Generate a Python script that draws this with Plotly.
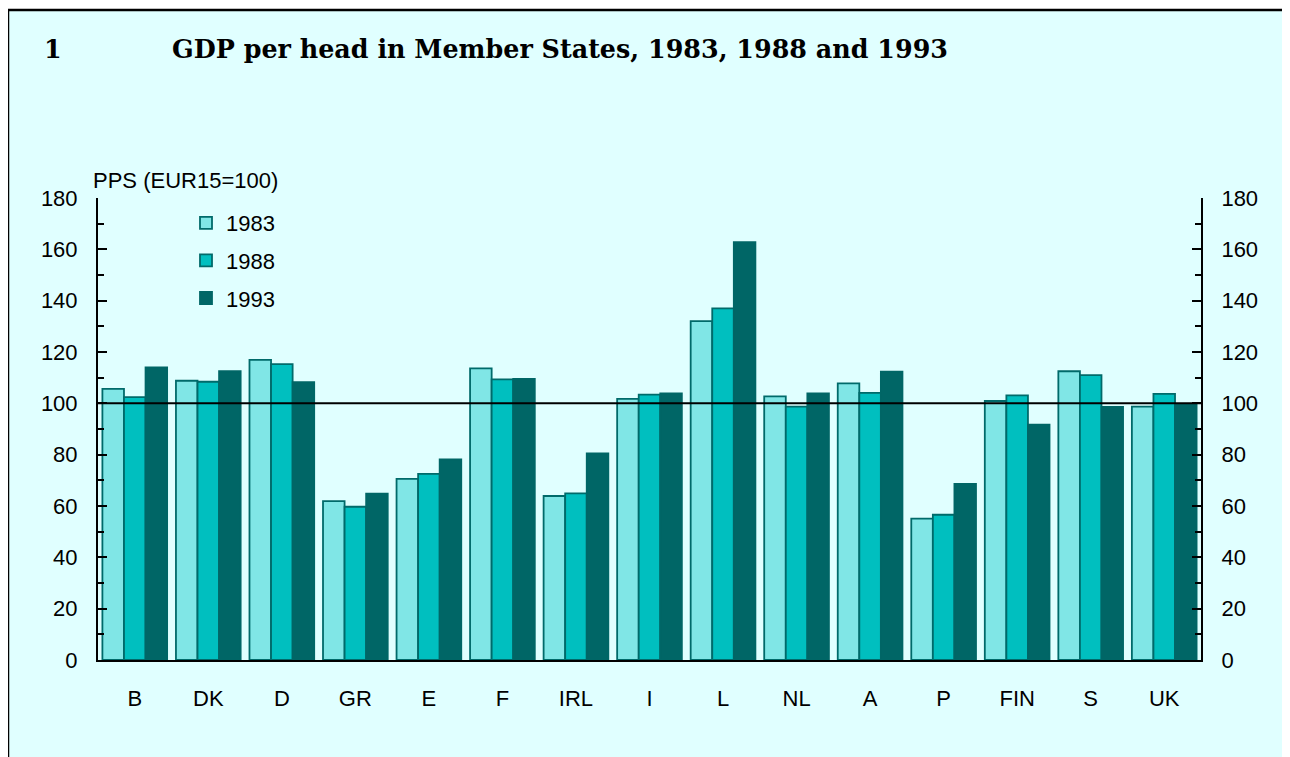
import plotly.graph_objects as go

countries = ["B", "DK", "D", "GR", "E", "F", "IRL", "I", "L", "NL", "A", "P", "FIN", "S", "UK"]
v1983 = [105.6, 108.8, 116.9, 61.9, 70.6, 113.6, 63.9, 101.7, 132.0, 102.7, 107.8, 55.1, 100.9, 112.5, 98.7]
v1988 = [102.4, 108.4, 115.3, 59.7, 72.5, 109.3, 64.9, 103.4, 137.0, 98.7, 104.1, 56.6, 103.1, 111.0, 103.7]
v1993 = [114.0, 112.5, 108.3, 64.8, 78.2, 109.5, 80.5, 103.9, 162.8, 103.9, 112.3, 68.6, 91.7, 98.6, 99.7]
years = ["1983", "1988", "1993"]
fills = ["#80E6E6", "#00BFBF", "#006666"]
edges = ["#006A6A", "#006A6A", "#006666"]
ytick_vals = [0, 20, 40, 60, 80, 100, 120, 140, 160, 180]

OFF = 8  # page body margin
W, H = 1290 - OFF, 757 - OFF
ML = 98 - OFF
MT = 198 - OFF
MR = W - (1201 - OFF)
MB = H - (660 - OFF)
PW, PH = W - ML - MR, H - MT - MB

def px_x(p):
    return (p - OFF - ML) / PW

def px_y(p):
    return (H - MB - (p - OFF)) / PH

BG = "#E0FFFF"
FONT = "Liberation Sans, Arial, sans-serif"

fig = go.Figure()
for yr, vals, fc, ec in zip(years, [v1983, v1988, v1993], fills, edges):
    fig.add_trace(go.Bar(
        x=countries, y=vals, name=yr, legendgroup=yr,
        marker=dict(color=fc, line=dict(color=ec, width=1.8)),
    ))
# invisible trace to activate the right-hand axis
fig.add_trace(go.Scatter(x=countries, y=v1983, yaxis="y2", mode="none",
                         showlegend=False, hoverinfo="skip"))

fig.add_shape(type="rect", xref="paper", yref="paper",
              x0=px_x(8), x1=px_x(1300), y0=px_y(780), y1=px_y(10),
              fillcolor=BG, line=dict(color="black", width=2.5), layer="below")
fig.add_shape(type="line", xref="paper", yref="y", x0=0, x1=1, y0=100, y1=100,
              line=dict(color="black", width=2), layer="above")

fig.add_annotation(text="<b>1</b>", xref="paper", yref="paper", x=px_x(42), y=px_y(49),
                   xanchor="left", yanchor="middle", showarrow=False,
                   font=dict(family="DejaVu Serif", size=25.4, color="black"))
fig.add_annotation(text="<b>GDP per head in Member States, 1983, 1988 and 1993</b>",
                   xref="paper", yref="paper", x=px_x(170), y=px_y(49),
                   xanchor="left", yanchor="middle", showarrow=False,
                   font=dict(family="DejaVu Serif", size=25.4, color="black"))
fig.add_annotation(text="PPS (EUR15=100)", xref="paper", yref="paper",
                   x=px_x(91), y=px_y(180), xanchor="left", yanchor="middle",
                   showarrow=False, font=dict(family=FONT, size=22, color="black"))

yax = dict(range=[0, 180], tickvals=ytick_vals, ticks="inside", ticklen=9, tickwidth=2,
           tickcolor="black", showline=True, linecolor="black", linewidth=2,
           showgrid=False, zeroline=False, ticklabelstandoff=14,
           tickfont=dict(family=FONT, size=22, color="black"),
           minor=dict(dtick=10, ticks="inside", ticklen=6, tickwidth=2, tickcolor="black",
                      showgrid=False))

fig.update_layout(
    width=W, height=H,
    margin=dict(l=ML, r=MR, t=MT, b=MB, pad=0),
    paper_bgcolor="white", plot_bgcolor="rgba(0,0,0,0)",
    barmode="group", bargap=0.12, bargroupgap=0,
    showlegend=True,
    legend=dict(x=px_x(186), y=px_y(202), xanchor="left", yanchor="top",
                bgcolor="rgba(0,0,0,0)", traceorder="grouped", tracegroupgap=6,
                font=dict(family=FONT, size=22, color="black")),
    xaxis=dict(showline=True, linecolor="black", linewidth=2, ticks="", showgrid=False,
               ticklabelstandoff=18, tickfont=dict(family=FONT, size=22, color="black")),
    yaxis=yax,
    yaxis2=dict(yax, overlaying="y", side="right"),
)

fig.write_html("out.html")
